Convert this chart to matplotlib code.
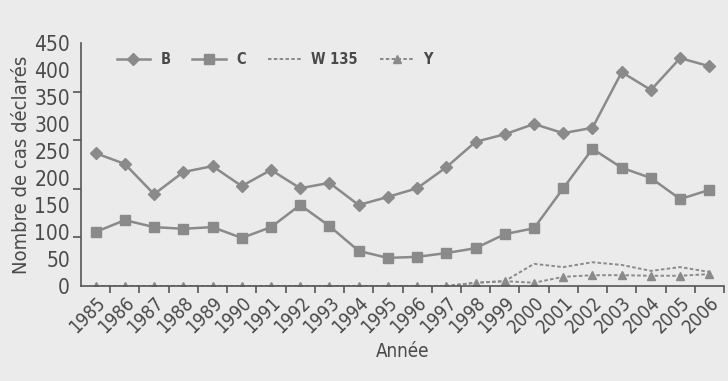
import matplotlib
matplotlib.use("Agg")
import matplotlib.pyplot as plt
from matplotlib.ticker import FixedLocator

plt.rcParams['font.family'] = ['DejaVu Sans']
plt.rcParams['font.stretch'] = 'condensed'

# data
years = list(range(1985, 2007))
b_vals = [246, 226, 170, 211, 222, 185, 215, 181, 191, 150, 165,
          181, 220, 267, 281, 300, 283, 293, 396, 363, 422, 407]
c_vals = [100, 122, 109, 106, 109, 89, 109, 150, 111, 65, 52,
          54, 61, 70, 96, 107, 181, 254, 219, 200, 161, 178]
w135_vals = [0, 0, 0, 0, 0, 0, 0, 0, 0, 0, 0,
             0, 0, 6, 9, 41, 35, 44, 39, 28, 35, 26]
y_vals = [0, 0, 0, 0, 0, 0, 0, 0, 0, 0, 0,
          0, 0, 6, 9, 6, 17, 20, 20, 19, 19, 22]
ytick_labels = ['0', '50', '100', '150', '200', '250', '300', '350', '400', '450']

bg = '#ebebeb'
grey = '#8a8a8a'
txt = '#4a4a4a'

fig = plt.figure(figsize=(7.28, 3.81), dpi=100, facecolor=bg)
ax = fig.add_axes([81/728, 1 - 286/381, (724-81)/728, (286-43)/381], facecolor=bg)

ax.plot(years, b_vals, color=grey, lw=1.8, marker='D', ms=6.5, label='B')
ax.plot(years, c_vals, color=grey, lw=1.8, marker='s', ms=7.5, label='C')
ax.plot(years, w135_vals, color=grey, lw=1.4, ls=(0, (1.8, 1.2)), label='W 135')
ax.plot(years, y_vals, color=grey, lw=1.4, ls=(0, (1.8, 1.2)), marker='^', ms=5.5, label='Y')

ax.set_xlim(1984.5, 2006.5)
ax.set_ylim(0, 450)

for s in ['top', 'right']:
    ax.spines[s].set_visible(False)
for s in ['left', 'bottom']:
    ax.spines[s].set_color('#555555')
    ax.spines[s].set_linewidth(1.2)

ax.set_xticks(years)
ax.set_xticklabels([str(y) for y in years], rotation=45, ha='right',
                   rotation_mode='anchor', fontsize=13.5, color=txt)
ax.tick_params(axis='x', which='major', length=0, pad=5)
ax.xaxis.set_minor_locator(FixedLocator([y + 0.5 for y in years[:-1]] + [2006.5]))
ax.tick_params(axis='x', which='minor', length=5, width=1.2, color='#555555')

ax.set_yticks(range(0, 451, 50))
ax.set_yticklabels(ytick_labels, fontsize=15, color=txt)
ax.tick_params(axis='y', which='major', length=0, pad=8)
ax.yaxis.set_minor_locator(FixedLocator(range(0, 451, 90)))
ax.tick_params(axis='y', which='minor', length=6, width=1.2, color='#555555')

ax.set_ylabel('Nombre de cas déclarés', fontsize=14.5, color=txt, labelpad=2)
ax.set_xlabel('Année', fontsize=13.5, color=txt, labelpad=4)

leg = ax.legend(loc='upper left', bbox_to_anchor=(0.035, 1.015), ncol=4, frameon=False,
                fontsize=10.5, handlelength=2.3, columnspacing=1.5, handletextpad=0.7)
for t in leg.get_texts():
    t.set_color(txt)
    t.set_fontweight('bold')

fig.savefig('out.png', dpi=100, facecolor=bg)
